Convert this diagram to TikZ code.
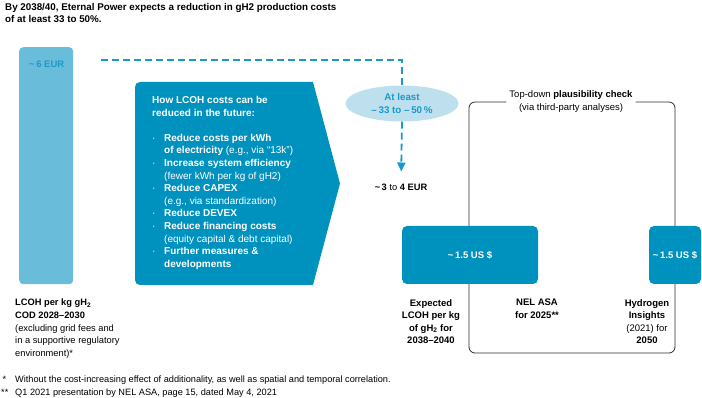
\documentclass[tikz,border=0pt]{standalone}
\usepackage{fontspec}
\setmainfont{Liberation Sans}
\usetikzlibrary{shapes.geometric, arrows.meta, positioning, calc}
\definecolor{lcohblue}{RGB}{0,146,191}
\definecolor{barblue}{RGB}{106,189,218}
\definecolor{paleblue}{RGB}{190,224,238}
\definecolor{textblue}{RGB}{26,154,203}
\definecolor{checkgray}{RGB}{45,45,45}

\begin{document}
\begin{tikzpicture}[
        x=1pt, y=-1pt,
        every node/.style={inner sep=0pt, font=\fontsize{9.3}{12.6}\selectfont},
        costbar/.style={rectangle, fill=barblue, rounded corners=4pt, minimum width=54pt, minimum height=237pt},
        usdbox/.style={rectangle, fill=lcohblue, rounded corners=5pt, minimum height=58pt, text=white, font=\fontsize{9.5}{11}\selectfont\bfseries},
        dashline/.style={dash pattern=on 7pt off 4pt, line width=1.8pt, draw=textblue},
        checkline/.style={draw=checkgray, line width=0.8pt, rounded corners=6pt},
        caption/.style={align=center, anchor=north, font=\fontsize{9.5}{12.6}\selectfont\bfseries}
    ]
        \useasboundingbox (0,0) rectangle (702,398);

        \node[anchor=north west, align=left, font=\fontsize{9.8}{12}\selectfont\bfseries] (title) at (5,3) {By 2038/40, Eternal Power expects a reduction in gH2 production costs\\of at least 33 to 50\%.};

        \node[costbar, anchor=north west] (bar) at (19,47) {};
        \node[anchor=west, text=textblue, font=\fontsize{9.5}{11}\selectfont\bfseries] (sixeur) at (29,64) {\textasciitilde\,6 EUR};

        \fill[lcohblue] (313,82) [rounded corners=5pt] -- (135,82) -- (135,285) [sharp corners] -- (313,285) -- (340,183.5) -- cycle;
        \node[anchor=north west, align=left, text=white, font=\fontsize{10}{12.6}\selectfont] (howto) at (152,96) {\textbf{How LCOH costs can be}\\\textbf{reduced in the future:}\\[12.6pt]
            \makebox[12pt][l]{·}\textbf{Reduce costs per kWh}\\
            \hspace*{12pt}\textbf{of electricity} (e.g., via “13k”)\\
            \makebox[12pt][l]{·}\textbf{Increase system efficiency}\\
            \hspace*{12pt}(fewer kWh per kg of gH2)\\
            \makebox[12pt][l]{·}\textbf{Reduce CAPEX}\\
            \hspace*{12pt}(e.g., via standardization)\\
            \makebox[12pt][l]{·}\textbf{Reduce DEVEX}\\
            \makebox[12pt][l]{·}\textbf{Reduce financing costs}\\
            \hspace*{12pt}(equity capital \& debt capital)\\
            \makebox[12pt][l]{·}\textbf{Further measures \&}\\
            \hspace*{12pt}\textbf{developments}};

        \node[ellipse, fill=paleblue, minimum width=113pt, minimum height=36pt, align=center, text=textblue, font=\fontsize{9.8}{13}\selectfont\bfseries] (atleast) at (402,103.5) {At least\\–\,33 to –\,50\,\%};
        \node[font=\fontsize{9.3}{11}\selectfont] (threefour) at (401,187) {\textbf{\textasciitilde\,3} to \textbf{4 EUR}};
        \coordinate (dstart) at (101,60);
        \draw[dashline] (dstart) -| (atleast.north);
        \draw[dashline, -{Triangle[length=9pt, width=8pt]}, shorten >=12pt] (atleast.south) -- (threefour.north);

        \node[anchor=north, inner xsep=3pt, align=center, font=\fontsize{9.5}{13}\selectfont] (check) at (571,90) {Top-down \textbf{plausibility check}\\(via third-party analyses)};
        \coordinate (ctl) at (469,102);
        \coordinate (cbl) at (469,353);
        \coordinate (cbr) at (675,353);
        \coordinate (ctr) at (675,102);
        \draw[checkline] (check.west |- ctl) -- (ctl) -- (cbl) -- (cbr) -- (ctr) -- (check.east |- ctr);

        \node[usdbox, minimum width=136pt] (usd1) at (470,255) {\textasciitilde\,1.5 US \$};
        \node[usdbox, minimum width=52pt] (usd2) at (675,255) {\textasciitilde\,1.5 US \$};

        \node[anchor=north west, align=left, font=\fontsize{9.3}{12.6}\selectfont] (lcoh) at (15,299) {\textbf{LCOH per kg gH\textsubscript{2}}\\\textbf{COD 2028–2030}\\(excluding grid fees and\\in a supportive regulatory\\environment)*};
        \node[caption] (expected) at (431,299) {Expected\\LCOH per kg\\of gH\textsubscript{2} for\\2038–2040};
        \node[caption] (nel) at (537,299) {NEL ASA\\for 2025**};
        \node[caption] (insights) at (647,299) {Hydrogen\\Insights\\{\mdseries (2021) for}\\2050};

        \node[anchor=north west, align=left, font=\fontsize{9.2}{12.6}\selectfont] (notes) at (1,376) {\makebox[14pt][l]{\,*}Without the cost-increasing effect of additionality, as well as spatial and temporal correlation.\\
            \makebox[14pt][l]{**}Q1 2021 presentation by NEL ASA, page 15, dated May 4, 2021};
    \end{tikzpicture}
\end{document}
